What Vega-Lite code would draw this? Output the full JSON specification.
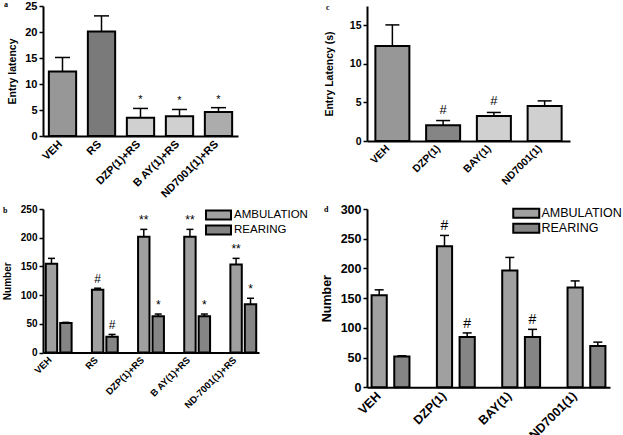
{
  "$schema": "https://vega.github.io/schema/vega-lite/v6.json",
  "autosize": {"type": "pad"},
  "padding": {"left": 2, "top": 0, "right": 0, "bottom": 0},
  "background": "white",
  "bounds": "flush",
  "columns": 2,
  "spacing": {"row": 68, "column": 108},
  "resolve": {"scale": {"color": "independent", "x": "independent", "y": "independent", "xOffset": "independent"}, "legend": {"color": "independent"}, "axis": {"x": "independent", "y": "independent"}},
  "config": {
    "font": "Liberation Sans",
    "view": {"stroke": null},
    "axis": {
      "domainColor": "black", "domainWidth": 2, "tickColor": "black", "tickWidth": 1.5, "tickSize": 4,
      "labelColor": "black", "labelFont": "Liberation Sans", "labelFontWeight": "bold", "labelOverlap": false,
      "titleColor": "black", "titleFont": "Liberation Sans", "titleFontWeight": "bold", "grid": false, "labelPadding": 2
    },
    "axisX": {"ticks": false, "labelAngle": -45, "title": null},
    "title": {"font": "Liberation Serif", "fontWeight": "bold", "fontSize": 8, "color": "black", "anchor": "start", "frame": "group", "offset": 0, "baseline": "bottom"},
    "legend": {"labelFont": "Liberation Sans", "labelColor": "black", "labelFontWeight": "normal", "symbolStrokeColor": "black", "symbolStrokeWidth": 2, "symbolOpacity": 1, "title": null, "rowPadding": -6}
  },
  "concat": [
    {
      "width": 195, "height": 130,
      "title": {"text": "a", "dx": -39, "dy": 13},
      "data": {"values": [
        {"g": "VEH", "v": 12.4, "hi": 15.1, "s": ""},
        {"g": "RS", "v": 20.1, "hi": 23.1, "s": ""},
        {"g": "DZP(1)+RS", "v": 3.5, "hi": 5.3, "s": "*"},
        {"g": "B AY(1)+RS", "v": 3.8, "hi": 5.1, "s": "*"},
        {"g": "ND7001(1)+RS", "v": 4.6, "hi": 5.45, "s": "*"}
      ]},
      "encoding": {"x": {"field": "g", "type": "nominal", "sort": null, "scale": {"paddingInner": 0.3, "paddingOuter": 0.15}, "axis": {"labelFontSize": 11, "labelOffset": -6}}},
      "layer": [
        {"mark": {"type": "rule", "strokeWidth": 1.5, "color": "black"},
         "encoding": {"y": {"field": "v", "type": "quantitative", "title": "Entry latency", "scale": {"domain": [0, 25]}, "axis": {"values": [0, 5, 10, 15, 20, 25], "labelFontSize": 11, "titleFontSize": 10.5, "titlePadding": 7}}, "y2": {"field": "hi"}}},
        {"mark": {"type": "bar", "stroke": "black", "strokeWidth": 2},
         "encoding": {
           "y": {"field": "v", "type": "quantitative", "title": "Entry latency", "scale": {"domain": [0, 25]}, "axis": {"values": [0, 5, 10, 15, 20, 25], "labelFontSize": 11, "titleFontSize": 10.5, "titlePadding": 7}},
           "color": {"field": "g", "type": "nominal", "legend": null, "scale": {"domain": ["VEH", "RS", "DZP(1)+RS", "B AY(1)+RS", "ND7001(1)+RS"], "range": ["#979797", "#7a7a7a", "#d0d0d0", "#d0d0d0", "#acacac"]}}
         }},
        {"mark": {"type": "tick", "thickness": 1.5, "size": 15, "color": "black", "opacity": 1},
         "encoding": {"y": {"field": "hi", "type": "quantitative", "title": "Entry latency", "scale": {"domain": [0, 25]}, "axis": {"values": [0, 5, 10, 15, 20, 25], "labelFontSize": 11, "titleFontSize": 10.5, "titlePadding": 7}}}},
        {"mark": {"type": "text", "baseline": "bottom", "dy": -3, "fontSize": 11, "color": "black"},
         "encoding": {"y": {"field": "hi", "type": "quantitative", "title": "Entry latency", "scale": {"domain": [0, 25]}, "axis": {"values": [0, 5, 10, 15, 20, 25], "labelFontSize": 11, "titleFontSize": 10.5, "titlePadding": 7}}, "text": {"field": "s"}}}
      ]
    },
    {
      "width": 203, "height": 135,
      "title": {"text": "c", "dx": -41, "dy": 10},
      "data": {"values": [
        {"g": "VEH", "v": 12.3, "hi": 15.05, "s": ""},
        {"g": "DZP(1)", "v": 2.05, "hi": 2.65, "s": "#"},
        {"g": "BAY(1)", "v": 3.25, "hi": 3.7, "s": "#"},
        {"g": "ND7001(1)", "v": 4.55, "hi": 5.2, "s": ""}
      ]},
      "encoding": {"x": {"field": "g", "type": "nominal", "sort": null, "scale": {"paddingInner": 0.33, "paddingOuter": 0.165}, "axis": {"labelFontSize": 10.5, "labelOffset": -8}}},
      "layer": [
        {"mark": {"type": "rule", "strokeWidth": 1.5, "color": "black"},
         "encoding": {"y": {"field": "v", "type": "quantitative", "title": "Entry Latency (s)", "scale": {"domain": [0, 17.5]}, "axis": {"values": [0, 5, 10, 15], "labelFontSize": 10.5, "titleFontSize": 10.5, "titlePadding": 15}}, "y2": {"field": "hi"}}},
        {"mark": {"type": "bar", "stroke": "black", "strokeWidth": 2},
         "encoding": {
           "y": {"field": "v", "type": "quantitative", "title": "Entry Latency (s)", "scale": {"domain": [0, 17.5]}, "axis": {"values": [0, 5, 10, 15], "labelFontSize": 10.5, "titleFontSize": 10.5, "titlePadding": 15}},
           "color": {"field": "g", "type": "nominal", "legend": null, "scale": {"domain": ["VEH", "DZP(1)", "BAY(1)", "ND7001(1)"], "range": ["#979797", "#858585", "#d0d0d0", "#d0d0d0"]}}
         }},
        {"mark": {"type": "tick", "thickness": 1.5, "size": 14, "color": "black", "opacity": 1},
         "encoding": {"y": {"field": "hi", "type": "quantitative", "title": "Entry Latency (s)", "scale": {"domain": [0, 17.5]}, "axis": {"values": [0, 5, 10, 15], "labelFontSize": 10.5, "titleFontSize": 10.5, "titlePadding": 15}}}},
        {"mark": {"type": "text", "baseline": "bottom", "dy": -4, "fontSize": 13, "color": "black"},
         "encoding": {"y": {"field": "hi", "type": "quantitative", "title": "Entry Latency (s)", "scale": {"domain": [0, 17.5]}, "axis": {"values": [0, 5, 10, 15], "labelFontSize": 10.5, "titleFontSize": 10.5, "titlePadding": 15}}, "text": {"field": "s"}}}
      ]
    },
    {
      "width": 216, "height": 143.5,
      "title": {"text": "b", "dx": -40, "dy": 15},
      "data": {"values": [
        {"g": "VEH", "t": "AMBULATION", "v": 154.7, "hi": 164, "s": ""},
        {"g": "VEH", "t": "REARING", "v": 51.5, "hi": 52.5, "s": ""},
        {"g": "RS", "t": "AMBULATION", "v": 109.5, "hi": 112, "s": "#"},
        {"g": "RS", "t": "REARING", "v": 27.5, "hi": 31.5, "s": "#"},
        {"g": "DZP(1)+RS", "t": "AMBULATION", "v": 201.5, "hi": 214.5, "s": "**"},
        {"g": "DZP(1)+RS", "t": "REARING", "v": 63, "hi": 67, "s": "*"},
        {"g": "B AY(1)+RS", "t": "AMBULATION", "v": 201.5, "hi": 214.5, "s": "**"},
        {"g": "B AY(1)+RS", "t": "REARING", "v": 63, "hi": 67, "s": "*"},
        {"g": "ND-7001(1)+RS", "t": "AMBULATION", "v": 153.5, "hi": 164, "s": "**"},
        {"g": "ND-7001(1)+RS", "t": "REARING", "v": 84, "hi": 94.5, "s": "*"}
      ]},
      "encoding": {
        "x": {"field": "g", "type": "nominal", "sort": null, "scale": {"paddingInner": 0.44, "paddingOuter": 0.06}, "axis": {"labelFontSize": 9.5, "labelOffset": -12}},
        "xOffset": {"field": "t", "type": "nominal", "scale": {"paddingInner": 0.21, "paddingOuter": 0}}
      },
      "layer": [
        {"mark": {"type": "rule", "strokeWidth": 1.5, "color": "black"},
         "encoding": {"y": {"field": "v", "type": "quantitative", "title": "Number", "scale": {"domain": [0, 250]}, "axis": {"values": [0, 50, 100, 150, 200, 250], "labelFontSize": 10, "titleFontSize": 10, "titlePadding": 8}}, "y2": {"field": "hi"}}},
        {"mark": {"type": "bar", "stroke": "black", "strokeWidth": 2},
         "encoding": {
           "y": {"field": "v", "type": "quantitative", "title": "Number", "scale": {"domain": [0, 250]}, "axis": {"values": [0, 50, 100, 150, 200, 250], "labelFontSize": 10, "titleFontSize": 10, "titlePadding": 8}},
           "color": {"field": "t", "type": "nominal", "scale": {"domain": ["AMBULATION", "REARING"], "range": ["#a0a0a0", "#858585"]},
             "legend": {"orient": "none", "legendX": 169.5, "legendY": 0, "symbolType": "M-2.5,-0.9H2.5V0.9H-2.5Z", "symbolSize": 100, "labelFontSize": 11.5, "labelOffset": 9.5, "rowPadding": -6}}
         }},
        {"mark": {"type": "tick", "thickness": 1.5, "size": 7, "color": "black", "opacity": 1},
         "encoding": {"y": {"field": "hi", "type": "quantitative", "title": "Number", "scale": {"domain": [0, 250]}, "axis": {"values": [0, 50, 100, 150, 200, 250], "labelFontSize": 10, "titleFontSize": 10, "titlePadding": 8}}}},
        {"mark": {"type": "text", "baseline": "bottom", "dy": -2, "fontSize": 12, "color": "black"},
         "encoding": {"y": {"field": "hi", "type": "quantitative", "title": "Number", "scale": {"domain": [0, 250]}, "axis": {"values": [0, 50, 100, 150, 200, 250], "labelFontSize": 10, "titleFontSize": 10, "titlePadding": 8}}, "text": {"field": "s"}}}
      ]
    },
    {
      "width": 243, "height": 178.3,
      "title": {"text": "d", "dx": -43, "dy": 15},
      "data": {"values": [
        {"g": "VEH", "t": "AMBULATION", "v": 155, "hi": 164, "s": ""},
        {"g": "VEH", "t": "REARING", "v": 52, "hi": 53, "s": ""},
        {"g": "DZP(1)", "t": "AMBULATION", "v": 237.5, "hi": 255.5, "s": "#"},
        {"g": "DZP(1)", "t": "REARING", "v": 84.5, "hi": 91.5, "s": "#"},
        {"g": "BAY(1)", "t": "AMBULATION", "v": 196.5, "hi": 218.5, "s": ""},
        {"g": "BAY(1)", "t": "REARING", "v": 84.5, "hi": 97.5, "s": "#"},
        {"g": "ND7001(1)", "t": "AMBULATION", "v": 168, "hi": 179, "s": ""},
        {"g": "ND7001(1)", "t": "REARING", "v": 69.5, "hi": 76, "s": ""}
      ]},
      "encoding": {
        "x": {"field": "g", "type": "nominal", "sort": null, "scale": {"paddingInner": 0.42, "paddingOuter": 0.07}, "axis": {"labelFontSize": 12.5, "labelOffset": -16}},
        "xOffset": {"field": "t", "type": "nominal", "scale": {"paddingInner": 0.33, "paddingOuter": 0}}
      },
      "layer": [
        {"mark": {"type": "rule", "strokeWidth": 1.5, "color": "black"},
         "encoding": {"y": {"field": "v", "type": "quantitative", "title": "Number", "scale": {"domain": [0, 300]}, "axis": {"values": [0, 50, 100, 150, 200, 250, 300], "labelFontSize": 12.5, "titleFontSize": 12.5, "titlePadding": 7}}, "y2": {"field": "hi"}}},
        {"mark": {"type": "bar", "stroke": "black", "strokeWidth": 2},
         "encoding": {
           "y": {"field": "v", "type": "quantitative", "title": "Number", "scale": {"domain": [0, 300]}, "axis": {"values": [0, 50, 100, 150, 200, 250, 300], "labelFontSize": 12.5, "titleFontSize": 12.5, "titlePadding": 7}},
           "color": {"field": "t", "type": "nominal", "scale": {"domain": ["AMBULATION", "REARING"], "range": ["#a0a0a0", "#858585"]},
             "legend": {"orient": "none", "legendX": 153, "legendY": -2, "symbolType": "M-2.6,-0.9H2.6V0.9H-2.6Z", "symbolSize": 100, "labelFontSize": 12.5, "labelOffset": 9, "rowPadding": -6}}
         }},
        {"mark": {"type": "tick", "thickness": 1.5, "size": 9, "color": "black", "opacity": 1},
         "encoding": {"y": {"field": "hi", "type": "quantitative", "title": "Number", "scale": {"domain": [0, 300]}, "axis": {"values": [0, 50, 100, 150, 200, 250, 300], "labelFontSize": 12.5, "titleFontSize": 12.5, "titlePadding": 7}}}},
        {"mark": {"type": "text", "baseline": "bottom", "dy": -2, "fontSize": 14, "color": "black"},
         "encoding": {"y": {"field": "hi", "type": "quantitative", "title": "Number", "scale": {"domain": [0, 300]}, "axis": {"values": [0, 50, 100, 150, 200, 250, 300], "labelFontSize": 12.5, "titleFontSize": 12.5, "titlePadding": 7}}, "text": {"field": "s"}}}
      ]
    }
  ]
}
